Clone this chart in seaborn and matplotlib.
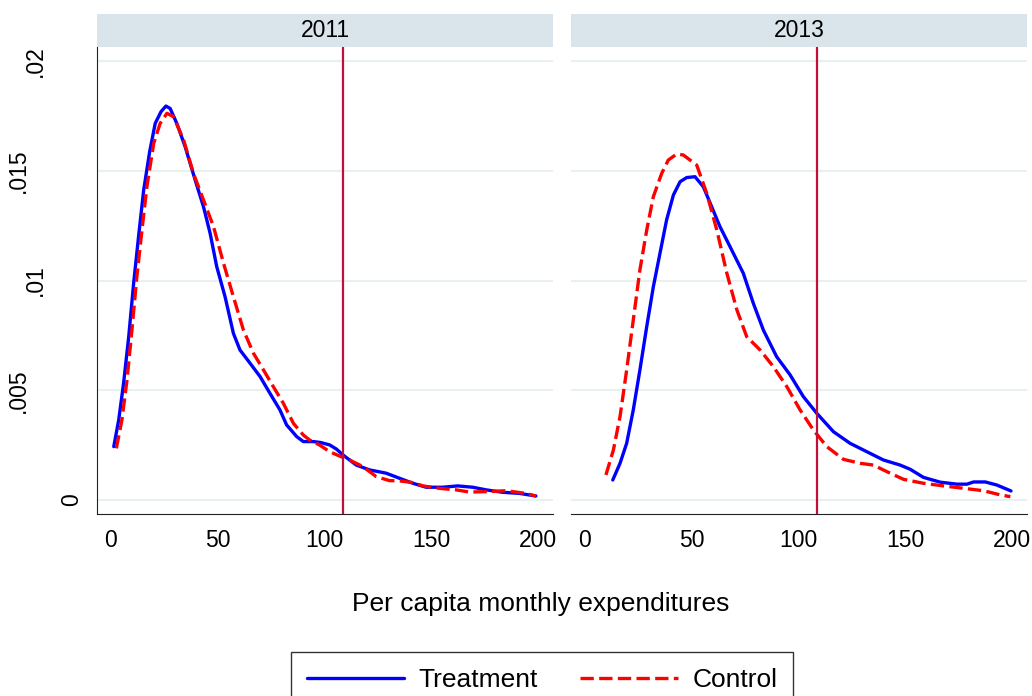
import pandas as pd
import matplotlib
matplotlib.use('Agg')
import matplotlib.pyplot as plt
import seaborn as sns
from matplotlib.lines import Line2D
from matplotlib.patches import Rectangle
from matplotlib.transforms import blended_transform_factory

# density curves
treat_2011_x = [1.3, 3.6, 5.9, 8.3, 10.6, 12.9, 15.3, 18.1, 20.7, 23.4, 25.7, 27.7, 30.8, 34.7, 39.4,
                43.3, 46.4, 49.5, 53.4, 57.3, 60.4, 65.1, 69.8, 74.4, 79.1, 82.2, 86.9, 90.0, 94.7, 98.0,
                102.3, 105.5, 108.6, 114.8, 121.0, 128.8, 135.0, 141.3, 147.5, 155.3, 162.3, 169.3,
                175.6, 183.3, 191.1, 198.9]
treat_2011_y = [0.00243, 0.00364, 0.00532, 0.00744, 0.00987, 0.01200, 0.01412, 0.01587, 0.01716,
                0.01769, 0.01795, 0.01784, 0.01716, 0.01610, 0.01458, 0.01336, 0.01215, 0.01063,
                0.00926, 0.00759, 0.00683, 0.00623, 0.00562, 0.00486, 0.00410, 0.00342, 0.00289,
                0.00266, 0.00266, 0.00262, 0.00251, 0.00232, 0.00205, 0.00159, 0.00137, 0.00122,
                0.00099, 0.00076, 0.00058, 0.00058, 0.00064, 0.00058, 0.00046, 0.00035, 0.00030, 0.00018]

ctrl_2011_x = [2.5, 5.1, 7.5, 9.8, 12.1, 14.5, 16.8, 20.0, 23.0, 26.2, 29.3, 34.0, 38.6, 43.3, 48.0,
               52.7, 57.3, 62.0, 66.7, 71.4, 76.0, 80.7, 85.4, 90.0, 93.0, 97.7, 102.3, 107.0, 111.7,
               117.9, 124.2, 130.4, 135.0, 141.3, 146.0, 153.7, 161.5, 167.8, 175.6, 184.9, 194.2, 198.9]
ctrl_2011_y = [0.00235, 0.00364, 0.00547, 0.00775, 0.01017, 0.01230, 0.01427, 0.01625, 0.01716,
               0.01762, 0.01746, 0.01640, 0.01488, 0.01367, 0.01245, 0.01078, 0.00926, 0.00774,
               0.00668, 0.00592, 0.00516, 0.00440, 0.00349, 0.00296, 0.00273, 0.00250, 0.00220,
               0.00200, 0.00182, 0.00152, 0.00106, 0.00088, 0.00087, 0.00079, 0.00064, 0.00053,
               0.00046, 0.00036, 0.00038, 0.00042, 0.00030, 0.00018]

treat_2013_x = [13.0, 16.4, 19.5, 22.6, 25.7, 28.9, 32.0, 35.1, 38.2, 41.4, 44.5, 47.6, 51.5, 55.4,
                59.3, 63.2, 67.9, 74.1, 78.8, 83.5, 89.7, 96.0, 102.2, 108.5, 116.3, 124.1, 131.9,
                139.7, 147.5, 152.2, 158.4, 166.3, 174.1, 178.8, 181.9, 187.4, 192.8, 199.4]
treat_2013_y = [0.00091, 0.00167, 0.00258, 0.00410, 0.00592, 0.00790, 0.00972, 0.01124, 0.01276,
                0.01390, 0.01450, 0.01469, 0.01473, 0.01427, 0.01336, 0.01245, 0.01154, 0.01033,
                0.00896, 0.00774, 0.00653, 0.00570, 0.00471, 0.00395, 0.00311, 0.00258, 0.00220,
                0.00182, 0.00159, 0.00140, 0.00103, 0.00081, 0.00072, 0.00072, 0.00082, 0.00082,
                0.00068, 0.00041]

ctrl_2013_x = [9.8, 13.3, 16.4, 19.5, 22.6, 25.7, 28.9, 32.0, 35.9, 39.0, 42.9, 46.0, 52.3, 57.0,
               61.7, 66.4, 71.1, 75.7, 82.0, 88.2, 94.5, 100.7, 106.9, 113.2, 121.0, 128.8, 135.0,
               141.3, 149.1, 158.4, 167.8, 177.2, 186.6, 194.4, 199.1]
ctrl_2013_y = [0.00114, 0.00228, 0.00380, 0.00592, 0.00820, 0.01048, 0.01230, 0.01382, 0.01488,
               0.01549, 0.01576, 0.01572, 0.01526, 0.01397, 0.01230, 0.01033, 0.00866, 0.00744,
               0.00683, 0.00607, 0.00516, 0.00410, 0.00319, 0.00243, 0.00185, 0.00167, 0.00159,
               0.00129, 0.00094, 0.00076, 0.00064, 0.00053, 0.00042, 0.00023, 0.00015]

years = ['2011', '2013']
groups = ['Treatment', 'Control']
cutoff = 108.6
yticks = [0, 0.005, 0.01, 0.015, 0.02]
ytick_labels = ['0', '.005', '.01', '.015', '.02']
xticks = [0, 50, 100, 150, 200]

series = {
    ('2011', 'Treatment'): (treat_2011_x, treat_2011_y),
    ('2011', 'Control'): (ctrl_2011_x, ctrl_2011_y),
    ('2013', 'Treatment'): (treat_2013_x, treat_2013_y),
    ('2013', 'Control'): (ctrl_2013_x, ctrl_2013_y),
}
rows = []
for (yr, grp), (xs, ys) in series.items():
    for xv, yv in zip(xs, ys):
        rows.append({'year': yr, 'group': grp, 'x': xv, 'y': yv})
df = pd.DataFrame(rows)

sns.set_style('white')
plt.rcParams['font.family'] = ['Liberation Sans', 'DejaVu Sans']
plt.rcParams['text.color'] = 'black'
plt.rcParams['xtick.color'] = 'black'
plt.rcParams['ytick.color'] = 'black'
plt.rcParams['xtick.labelcolor'] = 'black'

palette = {'Treatment': '#0000FF', 'Control': '#FF0000'}
dash_map = {'Treatment': '', 'Control': (4, 1.6)}

fig = plt.figure(figsize=(10.32, 6.96), dpi=100)
W, H = 1032, 696
ax_bottom = (H - 514) / H
ax_height = (514 - 47) / H
strip_h = 33 / 467

panels = [(97, 456), (571, 456)]
for k, yr in enumerate(years):
    left, width = panels[k]
    ax = fig.add_axes([left / W, ax_bottom, width / W, ax_height])
    sub = df[df['year'] == yr]
    sns.lineplot(data=sub, x='x', y='y', hue='group', style='group', units='group',
                 estimator=None, sort=False, palette=palette, dashes=dash_map,
                 hue_order=groups, style_order=groups, linewidth=2.4, legend=False, ax=ax)
    ax.axvline(cutoff, color='#C0103A', lw=1.6, zorder=3)
    ax.set_xlim(-6.55, 206.9)
    ax.set_ylim(-0.00064, 0.02064)
    ax.set_yticks(yticks)
    ax.set_xticks(xticks)
    ax.set_xticklabels([str(t) for t in xticks], fontsize=16.5, color='black')
    ax.grid(axis='y', color='#E8F0F2', lw=1.5, zorder=0)
    ax.set_axisbelow(True)
    ax.set_xlabel('')
    ax.set_ylabel('')
    for s in ['top', 'right']:
        ax.spines[s].set_visible(False)
    ax.spines['bottom'].set_color('#222222')
    ax.spines['left'].set_color('#222222')
    ax.tick_params(axis='x', length=6.5, width=1, color='#222222', pad=4)
    if k == 0:
        ax.tick_params(axis='y', length=6.5, width=1, color='#222222')
        ax.set_yticklabels([])
        tr = blended_transform_factory(fig.transFigure, ax.transData)
        label_x = [71.5, 18, 35.5, 18, 35]
        for yv, lab, lx in zip(yticks, ytick_labels, label_x):
            ax.text(lx / W, yv, lab, transform=tr, rotation=90, ha='center', va='center',
                    fontsize=16.5, color='black', clip_on=False)
    else:
        ax.spines['left'].set_visible(False)
        ax.tick_params(axis='y', length=0)
        ax.set_yticklabels([])
    # facet header strip
    ax.add_patch(Rectangle((0, 1), 1, strip_h, transform=ax.transAxes, facecolor='#D9E5EB',
                           edgecolor='none', clip_on=False))
    ax.text(0.5, 1 + strip_h / 2, yr, transform=ax.transAxes, ha='center', va='center',
            fontsize=16.5, color='black')

fig.text(541 / W, 1 - 604 / H, 'Per capita monthly expenditures', ha='center', va='center',
         fontsize=19, color='black')

handles = [Line2D([], [], color=palette['Treatment'], lw=2.4),
           Line2D([], [], color=palette['Control'], lw=2.4, dashes=(4, 1.6))]
leg = fig.legend(handles, groups, loc='upper center', bbox_to_anchor=(542 / W, 1 - 652 / H),
                 ncol=2, fontsize=19, frameon=True, fancybox=False, framealpha=1,
                 edgecolor='#333333', handlelength=3.7, handletextpad=0.55, columnspacing=1.6,
                 borderpad=0.6, borderaxespad=0)
leg.get_frame().set_linewidth(1.0)
for t in leg.get_texts():
    t.set_color('black')

fig.savefig('out.png', dpi=100)
